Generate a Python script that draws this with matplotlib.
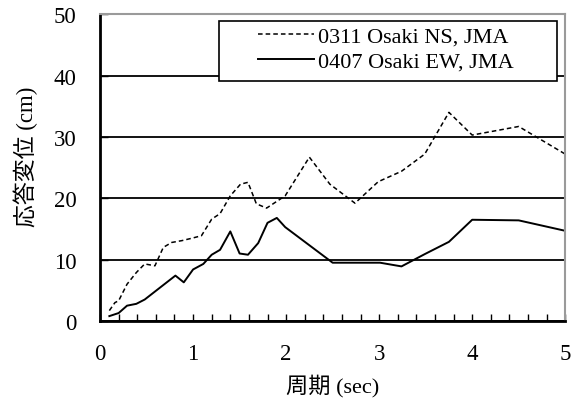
import matplotlib
matplotlib.use("Agg")
import matplotlib.pyplot as plt
from matplotlib.ticker import MultipleLocator
from matplotlib.patches import Rectangle

plt.rcParams['font.family'] = ['Liberation Serif', 'Noto Sans CJK JP']

# 0311 Osaki NS, JMA
ns_x = [0.1, 0.16, 0.2, 0.29, 0.39, 0.48, 0.59, 0.68, 0.77, 0.88, 0.99, 1.09,
        1.2, 1.29, 1.4, 1.51, 1.59, 1.68, 1.79, 1.99, 2.25, 2.47, 2.74, 2.99,
        3.24, 3.49, 3.75, 4.0, 4.5, 5.0]
ns_y = [1.7, 3.0, 3.3, 6.0, 7.9, 9.3, 9.0, 12.0, 12.8, 13.1, 13.5, 13.9,
        16.6, 17.5, 20.4, 22.3, 22.6, 19.1, 18.4, 20.4, 26.7, 22.3, 19.2, 22.7,
        24.4, 27.2, 34.0, 30.3, 31.7, 27.2]

# 0407 Osaki EW, JMA
ew_x = [0.1, 0.2, 0.29, 0.39, 0.48, 0.59, 0.7, 0.81, 0.9, 1.0, 1.11, 1.2,
        1.29, 1.4, 1.5, 1.59, 1.7, 1.8, 1.9, 1.99, 2.5, 3.01, 3.24, 3.49,
        3.75, 4.0, 4.5, 5.0]
ew_y = [0.8, 1.3, 2.5, 2.8, 3.5, 4.8, 6.1, 7.4, 6.3, 8.4, 9.3, 10.8,
        11.6, 14.6, 11.0, 10.8, 12.7, 16.0, 16.8, 15.3, 9.5, 9.5, 8.9, 10.9,
        12.9, 16.5, 16.4, 14.7]

fig = plt.figure(figsize=(5.75, 4.1), dpi=100)
ax = fig.add_axes([0.174, 0.2146, 0.809, 0.7484])

ax.plot(ns_x, ns_y, color='black', lw=1.1, linestyle=(0, (3, 2)), label='0311 Osaki NS, JMA')
ax.plot(ew_x, ew_y, color='black', lw=1.4, label='0407 Osaki EW, JMA')

ax.set_xlim(0, 5)
ax.set_ylim(0, 50)
ax.xaxis.set_major_locator(MultipleLocator(1))
ax.xaxis.set_minor_locator(MultipleLocator(0.2))
ax.yaxis.set_major_locator(MultipleLocator(10))
ax.yaxis.grid(True, color='black', lw=1.3)
ax.set_axisbelow(True)

ax.tick_params(axis='x', which='both', direction='in', length=5, width=1, pad=16, labelsize=16.5)
ax.tick_params(axis='y', which='both', direction='in', length=6, width=1, pad=17, labelsize=16.5)

for s in ['left', 'bottom']:
    ax.spines[s].set_linewidth(2)
    ax.spines[s].set_color('black')
for s in ['top', 'right']:
    ax.spines[s].set_linewidth(1.5)
    ax.spines[s].set_color('#9a9a9a')

ax.set_xlabel('周期 (sec)', fontsize=16, labelpad=7)
ax.set_ylabel('応答変位 (cm)', fontsize=16.5)
ax.yaxis.set_label_coords(-0.134, 0.537)

# legend box (drawn separately so it can be wider than its contents)
ax.add_patch(Rectangle((0.256, 0.782), 0.727, 0.195, transform=ax.transAxes,
                       facecolor='white', edgecolor='black', lw=1.2, zorder=4))
leg = ax.legend(loc='upper left', bbox_to_anchor=(0.33, 0.975), fontsize=16, frameon=False,
                borderpad=0.2, labelspacing=0.2, handlelength=2.5, handletextpad=0.2,
                borderaxespad=0)
leg.set_zorder(5)

fig.savefig('out.png', dpi=100)
